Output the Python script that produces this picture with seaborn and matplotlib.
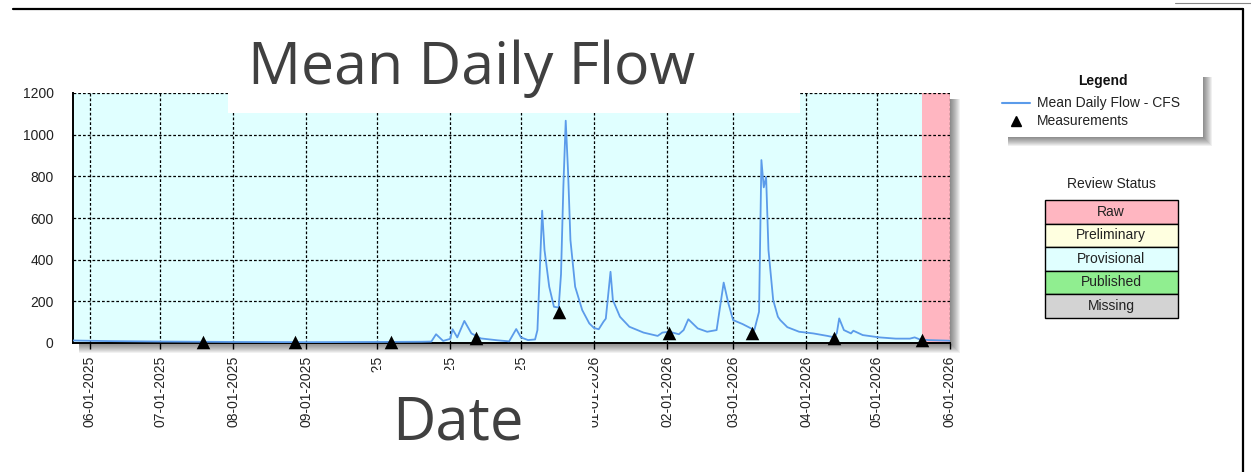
import numpy as np
import pandas as pd
import seaborn as sns
import matplotlib.pyplot as plt
import matplotlib.dates as mdates
from matplotlib.patches import Rectangle
from matplotlib.lines import Line2D
from matplotlib.transforms import Bbox

# Mean daily flow (CFS)
flow_dates = [
    "2025-05-25", "2025-06-10", "2025-07-01", "2025-08-01", "2025-09-01", "2025-10-01",
    "2025-10-20", "2025-10-24", "2025-10-26", "2025-10-29", "2025-11-01", "2025-11-02",
    "2025-11-04", "2025-11-07", "2025-11-10", "2025-11-14", "2025-11-21", "2025-11-26",
    "2025-11-29", "2025-12-01", "2025-12-04", "2025-12-07", "2025-12-08", "2025-12-10",
    "2025-12-11", "2025-12-13", "2025-12-15", "2025-12-17", "2025-12-18", "2025-12-19",
    "2025-12-20", "2025-12-21", "2025-12-22", "2025-12-24", "2025-12-27", "2025-12-30",
    "2026-01-01", "2026-01-03", "2026-01-05", "2026-01-06", "2026-01-08", "2026-01-09",
    "2026-01-12", "2026-01-16", "2026-01-22", "2026-01-28", "2026-01-30", "2026-02-02",
    "2026-02-06", "2026-02-08", "2026-02-10", "2026-02-14", "2026-02-18", "2026-02-22",
    "2026-02-25", "2026-02-27", "2026-03-01", "2026-03-05", "2026-03-10", "2026-03-12",
    "2026-03-13", "2026-03-14", "2026-03-15", "2026-03-16", "2026-03-18", "2026-03-20",
    "2026-03-21", "2026-03-24", "2026-03-29", "2026-04-04", "2026-04-10", "2026-04-13",
    "2026-04-14", "2026-04-15", "2026-04-17", "2026-04-20", "2026-04-21", "2026-04-25",
    "2026-05-02", "2026-05-09", "2026-05-15", "2026-05-17", "2026-05-19", "2026-05-23",
    "2026-06-01",
]
flow_cfs = [
    12, 9, 7, 5, 4, 5,
    6, 7, 42, 10, 20, 66,
    27, 106, 46, 22, 13, 8,
    67, 27, 14, 17, 62, 635,
    446, 270, 174, 170, 330, 750,
    1067, 820, 494, 270, 158, 94,
    72, 66, 102, 117, 342, 206,
    126, 78, 50, 34, 50, 54,
    42, 62, 114, 70, 54, 62,
    290, 190, 110, 91, 62, 150,
    878, 747, 798, 446, 206, 126,
    110, 76, 54, 46, 34, 27,
    48, 118, 62, 46, 59, 38,
    27, 21, 21, 27, 18, 14,
    11,
]

# Field measurements
meas_dates = ["2025-07-19", "2025-08-27", "2025-10-07", "2025-11-12", "2025-12-17",
              "2026-02-02", "2026-03-09", "2026-04-13", "2026-05-20"]
meas_cfs = [3, 3, 4, 22, 150, 50, 50, 25, 15]

status_labels = ["Raw", "Preliminary", "Provisional", "Published", "Missing"]
status_colors = ["#FFB6C1", "#FFFFE0", "#E0FFFF", "#90EE90", "#D3D3D3"]
raw_start = "2026-05-20"
x_start, x_end = "2025-05-25", "2026-06-01"
y_ticks = [0, 200, 400, 600, 800, 1000, 1200]

flow = pd.DataFrame({"date": pd.to_datetime(flow_dates), "cfs": flow_cfs})
meas = pd.DataFrame({"date": pd.to_datetime(meas_dates), "cfs": meas_cfs})

sns.set_style("white")
plt.rcParams["font.family"] = ["Liberation Sans", "DejaVu Sans"]

W, H = 1251, 472
fig = plt.figure(figsize=(W / 100, H / 100), dpi=100)


def fx(x):
    return x / W


def fy(y):
    return 1 - y / H


ax = fig.add_axes([fx(73), fy(343), fx(950) - fx(73), fy(93) - fy(343)])
ax.set_facecolor("#E0FFFF")
ax.axvspan(pd.Timestamp(raw_start), pd.Timestamp(x_end), color="#FFB6C1", lw=0, zorder=0.1)

sns.lineplot(data=flow, x="date", y="cfs", color="#5B9BEA", linewidth=1.3, ax=ax, zorder=3)
sns.scatterplot(data=meas, x="date", y="cfs", marker="^", s=95, color="black",
                edgecolor="black", linewidth=0, ax=ax, zorder=4, clip_on=False)

ax.set_xlim(pd.Timestamp(x_start), pd.Timestamp(x_end))
ax.set_ylim(0, 1200)
ax.set_yticks(y_ticks)
ax.xaxis.set_major_locator(mdates.MonthLocator())
ax.xaxis.set_major_formatter(mdates.DateFormatter("%m-%d-%Y"))
ax.set_xlabel("")
ax.set_ylabel("")

ax.set_axisbelow(True)
ax.grid(True, color="black", linestyle=(0, (2.2, 1.6)), linewidth=0.9)
for s in ["top", "right"]:
    ax.spines[s].set_visible(False)
for s in ["left", "bottom"]:
    ax.spines[s].set_color("black")
    ax.spines[s].set_linewidth(1.4)
ax.tick_params(axis="y", length=11, width=1, pad=3, labelsize=10, colors="black", labelcolor="#222222")
ax.tick_params(axis="x", length=4, width=1, pad=5, labelsize=10, rotation=90, colors="black",
               labelcolor="#222222", bottom=True)


def drop_shadow(x0, y0, x1, y1, off=6, steps=10, alpha=0.055):
    for k in range(1, steps + 1):
        fig.add_artist(Rectangle((fx(x0 + off), fy(y1 + k)), fx(x1 + k) - fx(x0 + off),
                                 fy(y0 + off) - fy(y1 + k), transform=fig.transFigure,
                                 color="black", alpha=alpha, lw=0, zorder=-1))


# shadow behind the plotting area
drop_shadow(73, 93, 950, 343)

# frame lines of the screenshot
fig.add_artist(Line2D([fx(13), fx(1243)], [fy(9), fy(9)], transform=fig.transFigure, color="black", lw=1.6))
fig.add_artist(Line2D([fx(1243), fx(1243)], [fy(9), fy(472)], transform=fig.transFigure, color="black", lw=1.6))
fig.add_artist(Line2D([fx(1175), fx(1251)], [fy(3), fy(3)], transform=fig.transFigure, color="#888888", lw=0.8))

# title and axis label overlays (white boxes hide what lies under them)
fig.add_artist(Rectangle((fx(228), fy(113)), fx(800) - fx(228), fy(12) - fy(113),
                         transform=fig.transFigure, color="white", lw=0, zorder=5))
fig.text(fx(248), fy(84), "Mean Daily Flow", fontsize=42.5, color="#404040", family="Open Sans",
         ha="left", va="baseline", zorder=6)
box_l, box_r, box_t = 374, 592, 370
fig.add_artist(Rectangle((fx(box_l), fy(472)), fx(box_r) - fx(box_l), fy(box_t) - fy(472),
                         transform=fig.transFigure, color="white", lw=0, zorder=5))
fig.text(fx(392), fy(439), "Date", fontsize=43, color="#404040", family="Open Sans",
         ha="left", va="baseline", zorder=6)

# tick labels fully under the "Date" box only show their top part
fig.canvas.draw()
for lab in ax.get_xticklabels():
    bb = lab.get_window_extent()
    cx = (bb.x0 + bb.x1) / 2
    if box_l - 2 <= cx <= box_r - 10:
        lab.set_clip_box(Bbox([[0, fy(box_t + 3) * H], [W, H]]))
        lab.set_clip_on(True)

# legend box
drop_shadow(1003, 72, 1203, 137, off=5, steps=9, alpha=0.06)
fig.add_artist(Rectangle((fx(1003), fy(137)), fx(1203) - fx(1003), fy(72) - fy(137),
                         transform=fig.transFigure, color="white", lw=0, zorder=0.5))
fig.text(fx(1103), fy(81), "Legend", fontsize=10, fontweight="bold", ha="center", va="center", color="#111111")
fig.add_artist(Line2D([fx(1002), fx(1030)], [fy(103), fy(103)], transform=fig.transFigure,
                      color="#5B9BEA", lw=1.5))
fig.text(fx(1037), fy(103), "Mean Daily Flow - CFS", fontsize=10, ha="left", va="center", color="#222222")
fig.add_artist(Line2D([fx(1016)], [fy(121)], transform=fig.transFigure, marker="^",
                      markersize=7, color="black", lw=0))
fig.text(fx(1037), fy(121), "Measurements", fontsize=10, ha="left", va="center", color="#222222")

# review status table
fig.text(fx(1111), fy(184), "Review Status", fontsize=10, ha="center", va="center", color="#222222")
row_top = 200
row_h = 23.5
for i, (lab, col) in enumerate(zip(status_labels, status_colors)):
    y0 = row_top + i * row_h
    fig.add_artist(Rectangle((fx(1045), fy(y0 + row_h)), fx(1178) - fx(1045), fy(y0) - fy(y0 + row_h),
                             transform=fig.transFigure, facecolor=col, edgecolor="black", lw=1))
    fig.text(fx(1111), fy(y0 + row_h / 2), lab, fontsize=10, ha="center", va="center", color="#222222")

fig.savefig("out.png", dpi=100)
